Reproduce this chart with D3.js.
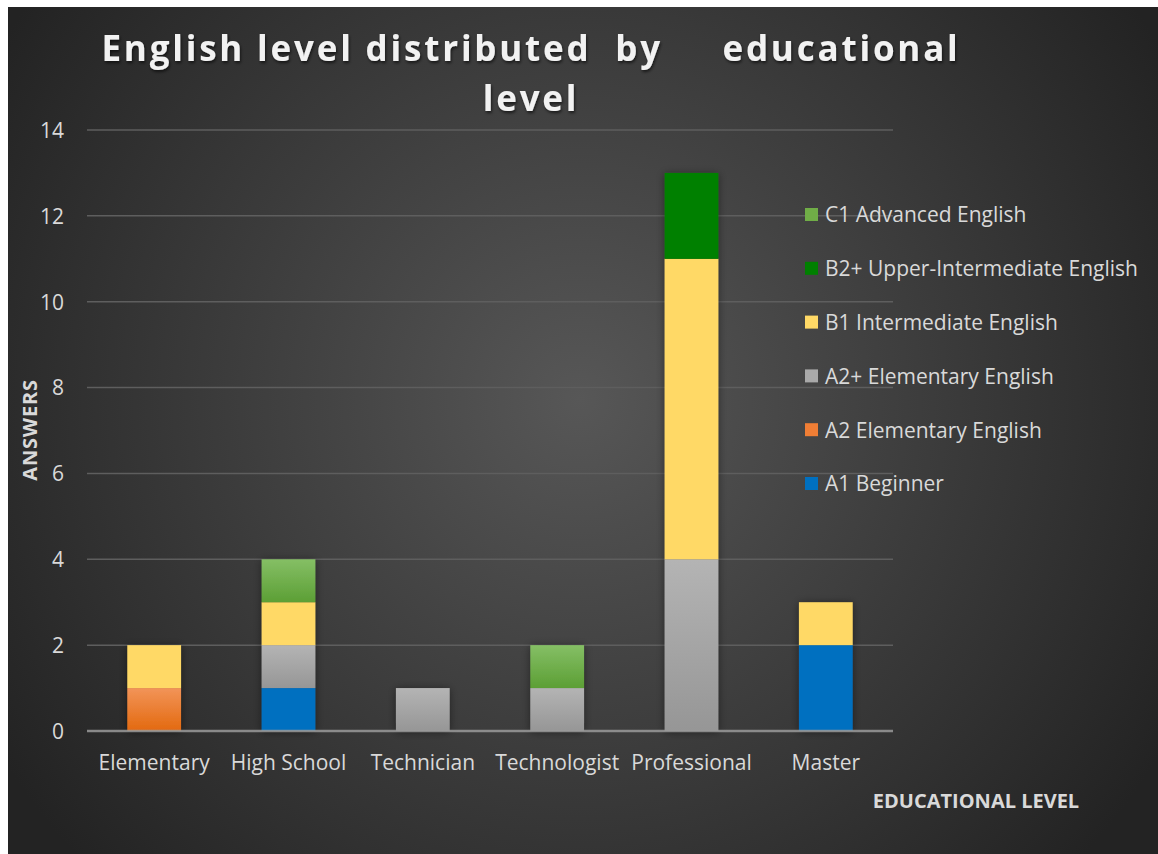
<!DOCTYPE html>
<html><head><meta charset="utf-8">
<script src="https://cdn.jsdelivr.net/npm/d3@7/dist/d3.min.js"></script>
<style>
html,body{margin:0;padding:0;background:#fff;}
svg{display:block;}
text{font-family:"Open Sans",Lato,sans-serif;}
</style></head>
<body><svg id="chart" width="1158" height="854"></svg>
<script>
const categories = ["Elementary","High School","Technician","Technologist","Professional","Master"];
const seriesNames = ["A1 Beginner","A2 Elementary English","A2+ Elementary English","B1 Intermediate English","B2+ Upper-Intermediate English","C1 Advanced English"];
const a1 = [0,1,0,0,0,2];
const a2 = [1,0,0,0,0,0];
const a2plus = [0,1,1,1,4,0];
const b1 = [1,1,0,0,7,1];
const b2plus = [0,0,0,0,2,0];
const c1 = [0,1,0,1,0,0];
const yTicks = [0,2,4,6,8,10,12,14];
const titleLines = ["English level distributed  by     educational","level"];

const seriesValues = [a1,a2,a2plus,b1,b2plus,c1];
const fills = [
  {top:"#0070c0",bot:"#0070c0"},
  {top:"#f29458",bot:"#e3690f"},
  {top:"#b4b4b4",bot:"#969696"},
  {top:"#ffd966",bot:"#ffd966"},
  {top:"#008000",bot:"#008000"},
  {top:"#85bf65",bot:"#5c9f35"}
];
const legendSwatch = ["#0070c0","#f07e35","#a9a9a9","#ffd966","#008000","#70ad47"];

const svg = d3.select("#chart");
const defs = svg.append("defs");
const bg = defs.append("radialGradient").attr("id","bg")
  .attr("gradientUnits","userSpaceOnUse").attr("cx",580).attr("cy",400).attr("r",680);
bg.append("stop").attr("offset","0%").attr("stop-color","#575757");
bg.append("stop").attr("offset","100%").attr("stop-color","#232323");
fills.forEach((f,i)=>{
  const g = defs.append("linearGradient").attr("id","g"+i).attr("x1",0).attr("y1",0).attr("x2",0).attr("y2",1);
  g.append("stop").attr("offset","0%").attr("stop-color",f.top);
  g.append("stop").attr("offset","100%").attr("stop-color",f.bot);
});
const shadow = defs.append("filter").attr("id","sh").attr("x","-30%").attr("y","-30%").attr("width","160%").attr("height","160%");
shadow.append("feDropShadow").attr("dx",0).attr("dy",1).attr("stdDeviation",4).attr("flood-color","#000").attr("flood-opacity",0.45);
const tsh = defs.append("filter").attr("id","tsh").attr("x","-10%").attr("y","-30%").attr("width","120%").attr("height","160%");
tsh.append("feDropShadow").attr("dx",1).attr("dy",2).attr("stdDeviation",1.5).attr("flood-color","#000").attr("flood-opacity",0.6);

svg.append("rect").attr("x",8).attr("y",7).attr("width",1150).attr("height",847).attr("fill","url(#bg)");

const x = d3.scaleBand().domain(categories).range([87,893]).paddingInner(0.6).paddingOuter(0.3);
const y = d3.scaleLinear().domain([0,14]).range([731,130]);

// gridlines
svg.append("g").selectAll("line").data(yTicks.filter(d=>d>0)).join("line")
  .attr("x1",87).attr("x2",893).attr("y1",d=>y(d)).attr("y2",d=>y(d))
  .attr("stroke","#5e5e5e").attr("stroke-width",1.5);

// y axis labels
const yAxis = d3.axisLeft(y).tickValues(yTicks).tickSize(0).tickPadding(0);
const yg = svg.append("g").attr("transform","translate(64,0)").call(yAxis);
yg.select(".domain").remove();
yg.selectAll("text").attr("fill","#d9d9d9").style("font-size","21px").attr("dy","0.35em");

// stacks
const table = categories.map((c,i)=>{const o={cat:c}; seriesNames.forEach((s,j)=>o[s]=seriesValues[j][i]); return o;});
const stack = d3.stack().keys(seriesNames)(table);
const bars = svg.append("g").attr("filter","url(#sh)");
stack.forEach((layer,li)=>{
  bars.append("g").selectAll("rect").data(layer.filter(d=>d[1]-d[0]>0)).join("rect")
    .attr("x",d=>x(d.data.cat)).attr("width",x.bandwidth())
    .attr("y",d=>y(d[1])).attr("height",d=>y(d[0])-y(d[1]))
    .attr("fill","url(#g"+li+")");
});

// x axis line
svg.append("line").attr("x1",87).attr("x2",893).attr("y1",y(0)).attr("y2",y(0))
  .attr("stroke","#9a9a9a").attr("stroke-width",2.5).attr("stroke-opacity",0.85);

const xAxis = d3.axisBottom(x).tickSize(0).tickPadding(0);
const xg = svg.append("g").attr("transform","translate(0,"+y(0)+")").call(xAxis);
xg.select(".domain").remove();
xg.selectAll("text").attr("fill","#d9d9d9").style("font-size","21px").attr("dy","39px");

// title
svg.append("g").attr("filter","url(#tsh)").selectAll("text").data(titleLines).join("text")
  .attr("x",531).attr("y",(d,i)=>61+i*50).attr("text-anchor","middle")
  .attr("fill","#f2f2f2").style("font-size","35px").style("font-weight","bold")
  .style("letter-spacing","2.8px").style("white-space","pre").text(d=>d);

// axis titles
svg.append("text").attr("transform","translate(37,430) rotate(-90)").attr("text-anchor","middle")
  .attr("fill","#d9d9d9").style("font-size","20px").style("font-weight","bold").style("letter-spacing","0.8px").text("ANSWERS");
svg.append("text").attr("x",976).attr("y",808).attr("text-anchor","middle")
  .attr("fill","#d9d9d9").style("font-size","20px").style("font-weight","bold").text("EDUCATIONAL LEVEL");

// legend (top to bottom: reversed order)
const legendItems = seriesNames.map((s,i)=>({s,i})).reverse();
const lg = svg.append("g").selectAll("g").data(legendItems).join("g")
  .attr("transform",(d,k)=>"translate(805,"+(215+k*53.8)+")");
lg.append("rect").attr("x",0).attr("y",-7).attr("width",13).attr("height",13)
  .attr("fill",d=>legendSwatch[d.i]);
lg.append("text").attr("x",20).attr("y",0).attr("dy","0.35em").attr("fill","#d9d9d9")
  .style("font-size","21px").text(d=>d.s);
</script></body></html>
